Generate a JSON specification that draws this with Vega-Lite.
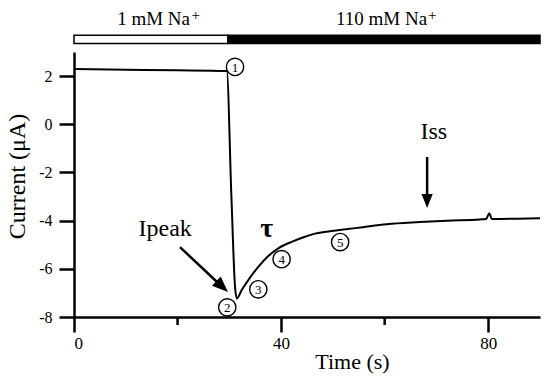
{
  "$schema": "https://vega.github.io/schema/vega-lite/v6.json",
  "width": 466,
  "height": 265,
  "autosize": {"type": "none"},
  "padding": {"left": 74, "top": 52, "right": 7, "bottom": 63},
  "background": "white",
  "config": {
    "view": {"stroke": null},
    "font": "Liberation Serif, Times New Roman, serif",
    "axis": {"labelFont": "Liberation Serif, Times New Roman, serif", "titleFont": "Liberation Serif, Times New Roman, serif"},
    "text": {"font": "Liberation Serif, Times New Roman, serif", "color": "black"}
  },
  "layer": [
    {
      "data": {"values": [
        {"t": 0, "i": 2.29}, {"t": 10, "i": 2.26}, {"t": 20, "i": 2.24}, {"t": 29.5, "i": 2.21},
        {"t": 30.4, "i": -3.0}, {"t": 31.1, "i": -6.75}, {"t": 31.45, "i": -7.23},
        {"t": 32.39, "i": -6.88}, {"t": 33.66, "i": -6.47}, {"t": 35.59, "i": -5.92}, {"t": 37.52, "i": -5.47},
        {"t": 39.46, "i": -5.15}, {"t": 42.04, "i": -4.88}, {"t": 44.61, "i": -4.67}, {"t": 46.54, "i": -4.54},
        {"t": 49.4, "i": -4.44}, {"t": 52.5, "i": -4.36}, {"t": 55.8, "i": -4.27}, {"t": 60.4, "i": -4.15},
        {"t": 66.8, "i": -4.06}, {"t": 72.0, "i": -4.0}, {"t": 78.4, "i": -3.95}, {"t": 79.6, "i": -3.93},
        {"t": 80.2, "i": -3.69}, {"t": 80.7, "i": -3.93}, {"t": 85.0, "i": -3.92}, {"t": 90.0, "i": -3.9}
      ]},
      "mark": {"type": "line", "color": "black", "strokeWidth": 2, "interpolate": "monotone"},
      "encoding": {
        "x": {
          "field": "t", "type": "quantitative",
          "scale": {"domain": [0, 90], "nice": false, "zero": false},
          "axis": {
            "title": "Time (s)", "values": [0, 40, 80], "grid": false,
            "labelExpr": "datum.value < 0 ? '-' + abs(datum.value) : '' + datum.value",
            "domainColor": "black", "domainWidth": 2.5, "tickColor": "black", "tickWidth": 2.5, "tickSize": 15,
            "labelFont": "Liberation Serif, Times New Roman, serif", "labelFontSize": 17, "labelColor": "black", "labelPadding": 3,
            "titleFont": "Liberation Serif, Times New Roman, serif", "titleFontSize": 22, "titleFontWeight": "normal", "titleColor": "black",
            "titleX": 278, "titleY": 51, "titleBaseline": "alphabetic", "titleAlign": "center"
          }
        },
        "y": {
          "field": "i", "type": "quantitative",
          "scale": {"domain": [-8, 3], "nice": false, "zero": false},
          "axis": {
            "title": "Current (μA)", "values": [-8, -6, -4, -2, 0, 2], "grid": false,
            "labelExpr": "datum.value < 0 ? '-' + abs(datum.value) : '' + datum.value",
            "domainColor": "black", "domainWidth": 2.5, "tickColor": "black", "tickWidth": 2.5, "tickSize": 15,
            "labelFont": "Liberation Serif, Times New Roman, serif", "labelFontSize": 16, "labelColor": "black", "labelPadding": 7,
            "titleFont": "Liberation Serif, Times New Roman, serif", "titleFontSize": 24, "titleFontWeight": "normal", "titleColor": "black",
            "titleX": -57, "titleY": 124, "titleAngle": -90, "titleBaseline": "middle", "titleAlign": "center"
          }
        }
      }
    },
    {
      "data": {"values": [{"t": 20}, {"t": 60}]},
      "mark": {"type": "rule", "color": "black", "strokeWidth": 2.5, "clip": false},
      "encoding": {
        "x": {"field": "t", "type": "quantitative", "scale": {"domain": [0, 90], "nice": false, "zero": false}},
        "y": {"datum": -8, "type": "quantitative", "scale": {"domain": [-8, 3], "nice": false, "zero": false}},
        "y2": {"datum": -8.33}
      }
    },
    {
      "data": {"values": [
        {"start": 0, "end": 29.7, "phase": "1 mM Na+"},
        {"start": 29.7, "end": 90, "phase": "110 mM Na+"}
      ]},
      "mark": {"type": "rect", "stroke": "black", "strokeWidth": 1.5, "clip": false},
      "encoding": {
        "x": {"field": "start", "type": "quantitative", "scale": {"domain": [0, 90], "nice": false, "zero": false}},
        "x2": {"field": "end"},
        "y": {"datum": 3.35, "type": "quantitative", "scale": {"domain": [-8, 3], "nice": false, "zero": false}},
        "y2": {"datum": 3.7},
        "fill": {"field": "phase", "type": "nominal", "scale": {"domain": ["1 mM Na+", "110 mM Na+"], "range": ["white", "black"]}, "legend": null}
      }
    },
    {
      "data": {"values": [
        {"x": 22.4, "y": 4.14, "label": "1 mM Na"},
        {"x": 68.2, "y": 4.14, "label": "110 mM Na"}
      ]},
      "mark": {"type": "text", "align": "right", "baseline": "alphabetic", "fontSize": 19, "clip": false},
      "encoding": {
        "x": {"field": "x", "type": "quantitative"},
        "y": {"field": "y", "type": "quantitative"},
        "text": {"field": "label"}
      }
    },
    {
      "data": {"values": [
        {"x": 23.5, "y": 4.55, "label": "+"},
        {"x": 69.2, "y": 4.55, "label": "+"}
      ]},
      "mark": {"type": "text", "align": "center", "baseline": "middle", "fontSize": 15, "clip": false},
      "encoding": {
        "x": {"field": "x", "type": "quantitative"},
        "y": {"field": "y", "type": "quantitative"},
        "text": {"field": "label"}
      }
    },
    {
      "data": {"values": [
        {"x": 31.1, "y": 2.38, "n": "1"},
        {"x": 29.6, "y": -7.6, "n": "2"},
        {"x": 35.6, "y": -6.85, "n": "3"},
        {"x": 40.1, "y": -5.6, "n": "4"},
        {"x": 51.4, "y": -4.89, "n": "5"}
      ]},
      "layer": [
        {
          "mark": {"type": "point", "shape": "circle", "filled": false, "color": "black", "strokeWidth": 1.4, "size": 300, "opacity": 1, "clip": false},
          "encoding": {
            "x": {"field": "x", "type": "quantitative"},
            "y": {"field": "y", "type": "quantitative"}
          }
        },
        {
          "mark": {"type": "text", "align": "center", "baseline": "middle", "fontSize": 13, "dy": 1, "clip": false},
          "encoding": {
            "x": {"field": "x", "type": "quantitative"},
            "y": {"field": "y", "type": "quantitative"},
            "text": {"field": "n"}
          }
        }
      ]
    },
    {
      "data": {"values": [
        {"x": 17.6, "y": -4.63, "label": "Ipeak"},
        {"x": 69.5, "y": -0.62, "label": "Iss"}
      ]},
      "mark": {"type": "text", "align": "center", "baseline": "alphabetic", "fontSize": 24},
      "encoding": {
        "x": {"field": "x", "type": "quantitative"},
        "y": {"field": "y", "type": "quantitative"},
        "text": {"field": "label"}
      }
    },
    {
      "data": {"values": [
        {"x": 37.2, "y": -4.67, "label": "τ"}
      ]},
      "mark": {"type": "text", "align": "center", "baseline": "alphabetic", "fontSize": 28, "fontWeight": "bold"},
      "encoding": {
        "x": {"field": "x", "type": "quantitative"},
        "y": {"field": "y", "type": "quantitative"},
        "text": {"field": "label"}
      }
    },
    {
      "data": {"values": [
        {"x": 20.47, "y": -5.1, "x2": 28.04, "y2": -6.63},
        {"x": 68.2, "y": -1.36, "x2": 68.2, "y2": -3.1}
      ]},
      "mark": {"type": "rule", "color": "black", "strokeWidth": 2.5},
      "encoding": {
        "x": {"field": "x", "type": "quantitative"},
        "y": {"field": "y", "type": "quantitative"},
        "x2": {"field": "x2"},
        "y2": {"field": "y2"}
      }
    },
    {
      "data": {"values": [{"x": 68.2, "y": -3.19}]},
      "mark": {"type": "point", "shape": "M-0.8,-1L0.8,-1L0,1Z", "filled": true, "color": "black", "size": 196, "opacity": 1},
      "encoding": {
        "x": {"field": "x", "type": "quantitative"},
        "y": {"field": "y", "type": "quantitative"}
      }
    },
    {
      "data": {"values": [{"x": 28.62, "y": -6.74}]},
      "mark": {"type": "point", "shape": "M-0.8,-1L0.8,-1L0,1Z", "filled": true, "color": "black", "size": 256, "angle": -47, "opacity": 1},
      "encoding": {
        "x": {"field": "x", "type": "quantitative"},
        "y": {"field": "y", "type": "quantitative"}
      }
    }
  ]
}
